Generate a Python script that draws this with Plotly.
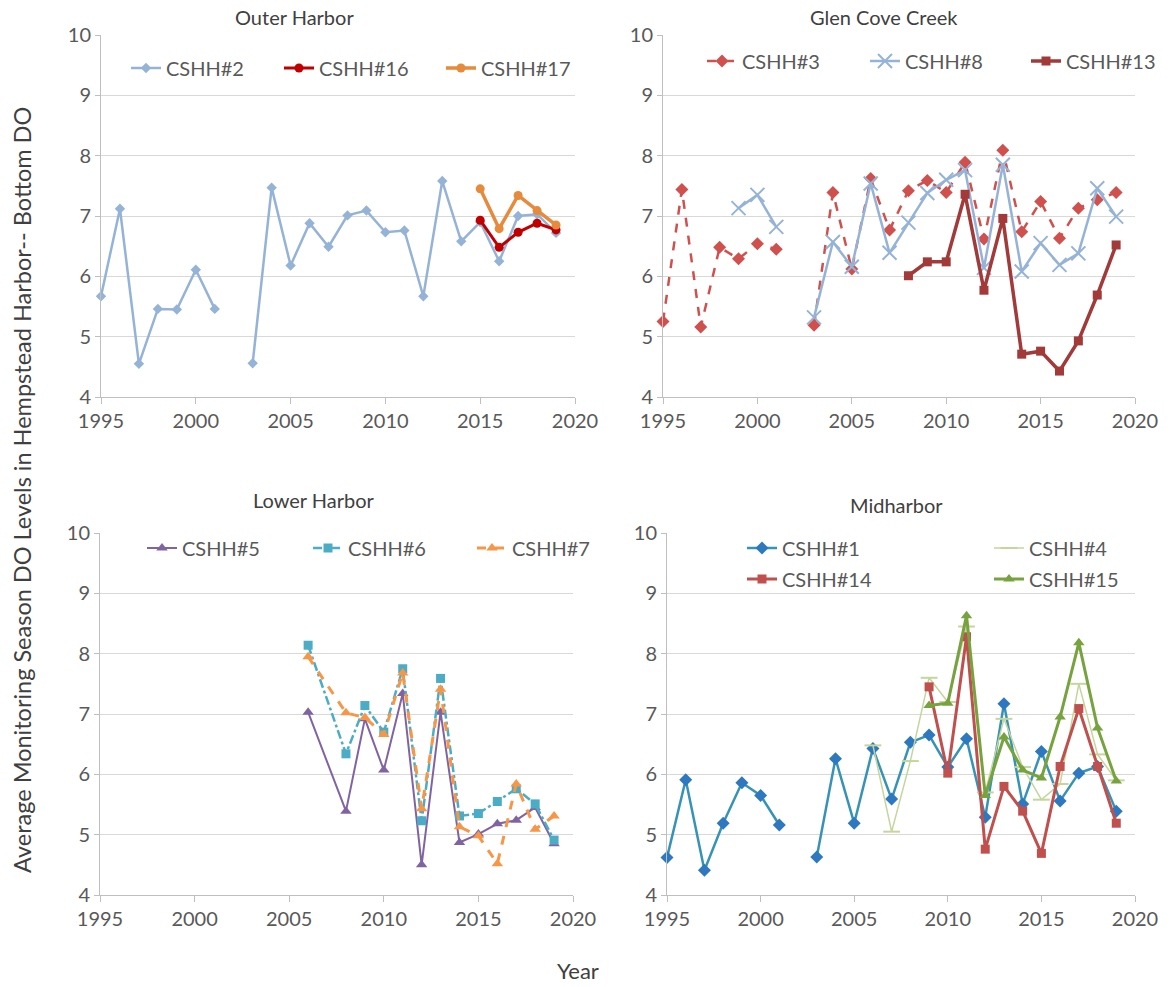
import plotly.graph_objects as go

W, H = 1175, 987
FONT = "Lato"
TXT = "#595959"
GRID = "#D9D9D9"
AXIS = "#BFBFBF"

# ---------------- data ----------------
years_all = list(range(1995, 2020))
years_8 = list(range(1999, 2020))
years_13 = list(range(2008, 2020))
years_oh_new = list(range(2015, 2020))
years_lh = [2006] + list(range(2008, 2020))
years_4 = list(range(2006, 2020))
years_mid_new = list(range(2009, 2020))

# Outer Harbor
cshh2 = [5.67, 7.12, 4.55, 5.46, 5.45, 6.11, 5.46, None, 4.56, 7.47, 6.18, 6.88, 6.49,
         7.01, 7.09, 6.73, 6.76, 5.67, 7.58, 6.58, 6.90, 6.25, 7.00, 7.03, 6.72]
cshh16 = [6.93, 6.48, 6.73, 6.88, 6.77]
cshh17 = [7.45, 6.79, 7.34, 7.09, 6.85]

# Glen Cove Creek
cshh3 = [5.25, 7.44, 5.16, 6.48, 6.29, 6.54, 6.45, None, 5.19, 7.39, 6.12, 7.62, 6.77,
         7.42, 7.59, 7.39, 7.89, 6.62, 8.09, 6.74, 7.24, 6.63, 7.13, 7.27, 7.39]
cshh8 = [7.13, 7.35, 6.82, None, 5.32, 6.57, 6.16, 7.54, 6.39, 6.89, 7.38, 7.60, 7.76,
         6.14, 7.85, 6.08, 6.55, 6.19, 6.38, 7.46, 6.99]
cshh13 = [6.01, 6.24, 6.24, 7.36, 5.77, 6.96, 4.71, 4.76, 4.43, 4.93, 5.69, 6.52]

# Lower Harbor
cshh5 = [7.03, 5.39, 6.92, 6.07, 7.34, 4.50, 7.03, 4.87, 5.01, 5.18, 5.24, 5.45, 4.85]
cshh6 = [8.14, 6.34, 7.14, 6.70, 7.75, 5.23, 7.59, 5.31, 5.35, 5.55, 5.76, 5.51, 4.91]
cshh7 = [7.95, 7.02, 6.94, 6.66, 7.68, 5.43, 7.41, 5.13, 4.98, 4.52, 5.84, 5.09, 5.31]

# Midharbor
cshh1 = [4.62, 5.91, 4.41, 5.19, 5.86, 5.65, 5.16, None, 4.63, 6.26, 5.19, 6.43, 5.59,
         6.53, 6.65, 6.12, 6.59, 5.29, 7.17, 5.51, 6.38, 5.56, 6.02, 6.13, 5.39]
cshh4 = [6.48, 5.05, 6.22, 7.60, 7.20, 8.45, 5.70, 6.92, 6.12, 5.58, 5.84, 7.50, 6.33, 5.90]
cshh14 = [7.45, 6.02, 8.28, 4.76, 5.80, 5.39, 4.69, 6.13, 7.09, 6.13, 5.19]
cshh15 = [7.14, 7.18, 8.63, 5.65, 6.62, 6.07, 5.94, 6.95, 8.18, 6.77, 5.89]

panel_titles = ["Outer Harbor", "Glen Cove Creek", "Lower Harbor", "Midharbor"]
y_title = "Average Monitoring Season DO Levels in Hempstead Harbor-- Bottom DO"
x_title = "Year"

fig = go.Figure()
legend_slots = {}  # legend id -> (text-left px, row-centre px)


def add(x, y, name, axis, slot, color, symbol, size=9, width=2.5, dash="solid",
        mcolor=None, mline=None):
    lid = "legend" if not fig.data else "legend%d" % (len(fig.data) + 1)
    legend_slots[lid] = slot
    marker = dict(symbol=symbol, size=size, color=mcolor or color)
    if mline is not None:
        marker["line"] = dict(color=mcolor or color, width=mline)
    fig.add_trace(go.Scatter(
        x=x, y=y, name=name, mode="lines+markers",
        xaxis="x" + axis, yaxis="y" + axis, legend=lid,
        line=dict(color=color, width=width, dash=dash),
        marker=marker, connectgaps=False, cliponaxis=False,
    ))


# Outer Harbor
add(years_all, cshh2, "CSHH#2", "", (167, 68), "#95B3D7", "diamond", size=8, width=2.5)
add(years_oh_new, cshh16, "CSHH#16", "", (320, 68), "#C00000", "circle", size=9, width=3)
add(years_oh_new, cshh17, "CSHH#17", "", (482, 68), "#E68A3C", "circle", size=9, width=3.5)

# Glen Cove Creek
add(years_all, cshh3, "CSHH#3", "2", (743, 61), "#D0504D", "diamond", size=10, width=2.5,
    dash="dash")
add(years_8, cshh8, "CSHH#8", "2", (906, 61), "#95B3D7", "x-thin-open", size=14, width=2.5,
    mline=2)
add(years_13, cshh13, "CSHH#13", "2", (1067, 61), "#A13A38", "square", size=9, width=3.5)

# Lower Harbor
add(years_lh, cshh5, "CSHH#5", "3", (183, 548), "#8064A2", "triangle-up", size=10, width=2)
add(years_lh, cshh6, "CSHH#6", "3", (349, 548), "#4BACC6", "square", size=9, width=2.5,
    dash="dashdot")
add(years_lh, cshh7, "CSHH#7", "3", (513, 548), "#F79646", "triangle-up", size=10, width=3,
    dash="dash")

# Midharbor
add(years_all, cshh1, "CSHH#1", "4", (783, 548), "#3793B5", "diamond", size=10, width=2.5,
    mcolor="#2E78C0")
add(years_4, cshh4, "CSHH#4", "4", (1030, 548), "#C3D69B", "line-ew-open", size=12,
    width=1.5, mline=2)
add(years_mid_new, cshh14, "CSHH#14", "4", (783, 579), "#C0504D", "square", size=9, width=3)
add(years_mid_new, cshh15, "CSHH#15", "4", (1030, 579), "#77A33F", "triangle-up", size=10,
    width=3)

# ---------------- layout ----------------
panels = {
    "": ((101, 575), (35, 397)),
    "2": ((663, 1135), (35, 397)),
    "3": ((100, 573), (533, 895)),
    "4": ((667, 1135), (533, 895)),
}

layout = dict(
    width=W, height=H, margin=dict(l=0, r=0, t=0, b=0, autoexpand=False),
    paper_bgcolor="white", plot_bgcolor="white",
    font=dict(family=FONT, size=20, color=TXT),
    showlegend=True,
)

for k, ((x0, x1), (y0, y1)) in panels.items():
    layout["xaxis" + k] = dict(
        domain=[x0 / W, x1 / W], anchor="y" + k, range=[1995, 2020], dtick=5, tick0=1995,
        showgrid=False, zeroline=False, showline=True, linecolor=AXIS, linewidth=1,
        ticks="outside", ticklen=6, tickcolor=AXIS, tickfont=dict(size=20, color=TXT),
        automargin=False,
    )
    layout["yaxis" + k] = dict(
        domain=[1 - y1 / H, 1 - y0 / H], anchor="x" + k, range=[4, 10], dtick=1,
        showgrid=True, gridcolor=GRID, gridwidth=1, zeroline=False, showline=True,
        linecolor=AXIS, linewidth=1, ticks="outside", ticklen=5, tickcolor=AXIS,
        tickfont=dict(size=20, color=TXT), automargin=False,
    )

for lid, (tx, ty) in legend_slots.items():
    layout[lid] = dict(orientation="h", xanchor="left", yanchor="middle",
                       x=(tx - 41) / W, y=1 - ty / H, bgcolor="rgba(0,0,0,0)",
                       font=dict(family=FONT, size=20, color=TXT),
                       itemclick=False, itemdoubleclick=False)

title_pos = [(294, 17), (884, 17), (314, 500), (896, 505)]
annotations = []
for t, (px, py) in zip(panel_titles, title_pos):
    annotations.append(dict(text=t, x=px / W, y=1 - py / H, xref="paper", yref="paper",
                            showarrow=False, xanchor="center", yanchor="middle",
                            font=dict(family=FONT, size=20, color="#404040")))
annotations.append(dict(text=y_title, x=22 / W, y=1 - 490 / H, xref="paper", yref="paper",
                        showarrow=False, textangle=-90, xanchor="center", yanchor="middle",
                        font=dict(family=FONT, size=23.5, color="#404040")))
annotations.append(dict(text=x_title, x=578 / W, y=1 - 970 / H, xref="paper", yref="paper",
                        showarrow=False, xanchor="center", yanchor="middle",
                        font=dict(family=FONT, size=22, color="#404040")))
layout["annotations"] = annotations

fig.update_layout(**layout)
fig.write_html("out.html")
